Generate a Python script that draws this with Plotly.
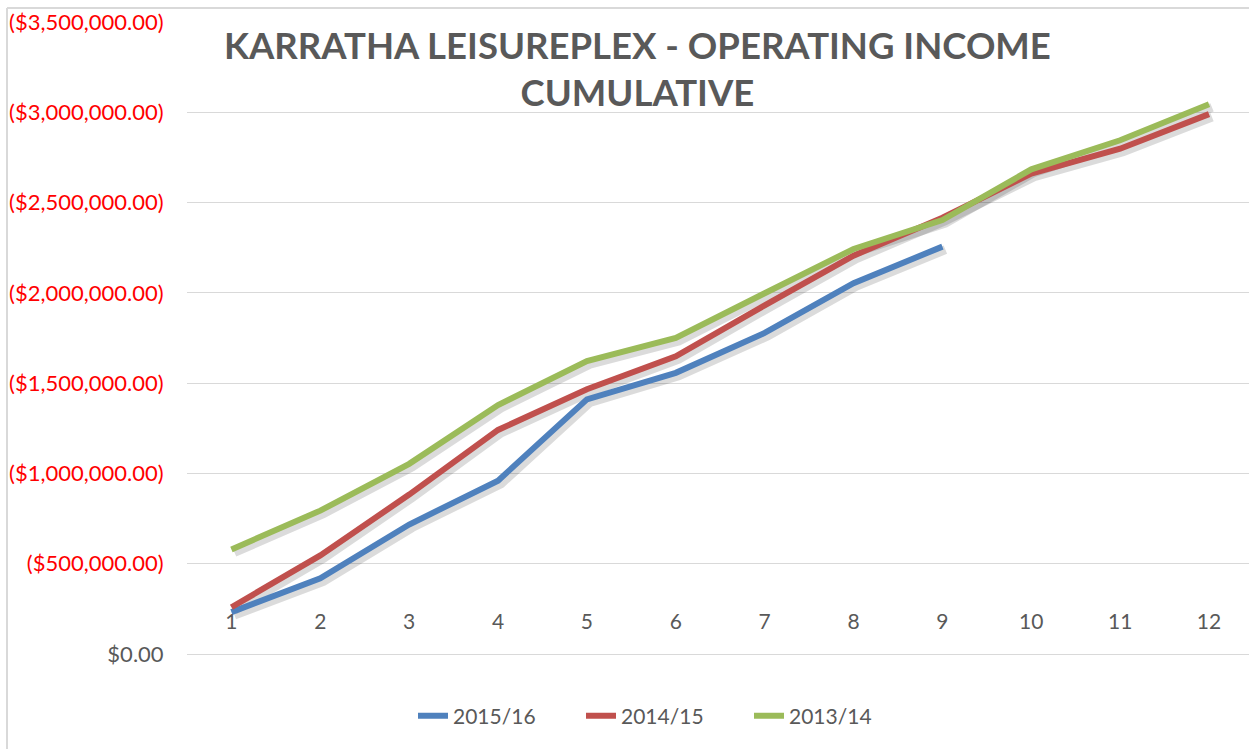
import plotly.graph_objects as go

# ---------------- data ----------------
months = [1, 2, 3, 4, 5, 6, 7, 8, 9, 10, 11, 12]
series_names = ["2015/16", "2014/15", "2013/14"]
income_2015_16 = [-232000, -419000, -717000, -960000, -1410000, -1557000, -1778000, -2054000, -2256000]
income_2014_15 = [-259000, -546000, -883000, -1241000, -1466000, -1649000, -1931000, -2206000, -2416000, -2660000, -2798000, -2990000]
income_2013_14 = [-579000, -794000, -1053000, -1379000, -1622000, -1750000, -1998000, -2243000, -2403000, -2684000, -2845000, -3044000]
tick_values = [0, -500000, -1000000, -1500000, -2000000, -2500000, -3000000, -3500000]
title_text = "KARRATHA LEISUREPLEX - OPERATING INCOME<br>CUMULATIVE"

colors = ["#4F81BD", "#C0504D", "#9BBB59"]
series = [income_2015_16, income_2014_15, income_2013_14]

W, H = 1249, 749
ML, MR, MT, MB = 187, 0, 22, 95
pw = W - ML - MR
ph = H - MT - MB

x_range = [0.5, 12.45]
y_range = [0, -3500000]
px_x = pw / (x_range[1] - x_range[0])
px_y = ph / (y_range[0] - y_range[1])

# shadow offset (pixels) via shifted overlay axes
sh = 3
x_range_sh = [x_range[0] - sh / px_x, x_range[1] - sh / px_x]
y_range_sh = [y_range[0] - sh / px_y, y_range[1] - sh / px_y]


def fmt(v):
    if v < 0:
        return '<span style="color:#FF0000">(${:,.2f})</span>'.format(-v)
    return "${:,.2f}".format(v)


tick_text = [fmt(v) for v in tick_values]


def px_to_paper_x(px):
    return (px - ML) / pw


def px_to_paper_y(py):
    return (H - MB - py) / ph


fig = go.Figure()

# invisible anchor trace on the base axes (keeps the base subplot with grid/ticks)
fig.add_trace(go.Scatter(
    x=months[:len(income_2014_15)], y=income_2014_15, mode="lines",
    line=dict(color="rgba(0,0,0,0)", width=0), showlegend=False, hoverinfo="skip",
))

for name, vals in zip(series_names, series):
    fig.add_trace(go.Scatter(
        x=months[:len(vals)], y=vals, mode="lines", xaxis="x2", yaxis="y2",
        line=dict(color="rgba(0,0,0,0.14)", width=9), showlegend=False, hoverinfo="skip",
    ))

for name, vals, c in zip(series_names, series, colors):
    fig.add_trace(go.Scatter(
        x=months[:len(vals)], y=vals, mode="lines", name=name, xaxis="x3", yaxis="y3",
        line=dict(color=c, width=6),
    ))

font_family = "Lato, 'Open Sans', sans-serif"
grey = "#595959"

fig.update_layout(
    width=W, height=H,
    margin=dict(l=ML, r=MR, t=MT, b=MB, autoexpand=False),
    paper_bgcolor="white", plot_bgcolor="white",
    font=dict(family=font_family, color=grey, size=19),
    xaxis=dict(
        range=x_range, tickvals=months, ticktext=[str(m) for m in months],
        anchor="free", position=(654 - 607) / ph,
        ticks="", showgrid=False, zeroline=False, showline=False,
        tickfont=dict(size=21, color=grey),
    ),
    yaxis=dict(
        range=y_range, tickvals=tick_values, ticktext=tick_text,
        showgrid=True, gridcolor="#D9D9D9", gridwidth=1,
        zeroline=True, zerolinecolor="#D9D9D9", zerolinewidth=1,
        ticks="outside", ticklen=18, tickcolor="rgba(0,0,0,0)",
        tickfont=dict(size=22, color=grey), showline=False,
    ),
    xaxis2=dict(range=x_range_sh, overlaying="x", visible=False),
    yaxis2=dict(range=y_range_sh, overlaying="y", visible=False),
    xaxis3=dict(range=x_range, overlaying="x", visible=False),
    yaxis3=dict(range=y_range, overlaying="y", visible=False),
    legend=dict(
        orientation="h", xref="container", yref="container",
        x=665 / W, xanchor="center", y=(H - 716) / H, yanchor="middle",
        font=dict(size=21, color=grey), bgcolor="rgba(0,0,0,0)",
        entrywidth=123, entrywidthmode="pixels",
    ),
    annotations=[dict(
        text="<b>" + title_text + "</b>", xref="paper", yref="paper",
        x=px_to_paper_x(637), y=px_to_paper_y(68), xanchor="center", yanchor="middle",
        showarrow=False, font=dict(size=36.5, color=grey, family=font_family),
        align="center",
    )],
    shapes=[
        dict(type="line", xref="paper", yref="paper",
             x0=px_to_paper_x(7), x1=px_to_paper_x(7), y0=px_to_paper_y(8), y1=px_to_paper_y(760),
             line=dict(color="#D9D9D9", width=2)),
        dict(type="line", xref="paper", yref="paper",
             x0=px_to_paper_x(7), x1=1.02, y0=px_to_paper_y(8), y1=px_to_paper_y(8),
             line=dict(color="#D9D9D9", width=2)),
    ],
    showlegend=True,
)

fig.write_html("out.html", post_script="document.body.style.margin='0';",
               config={"displayModeBar": False})
